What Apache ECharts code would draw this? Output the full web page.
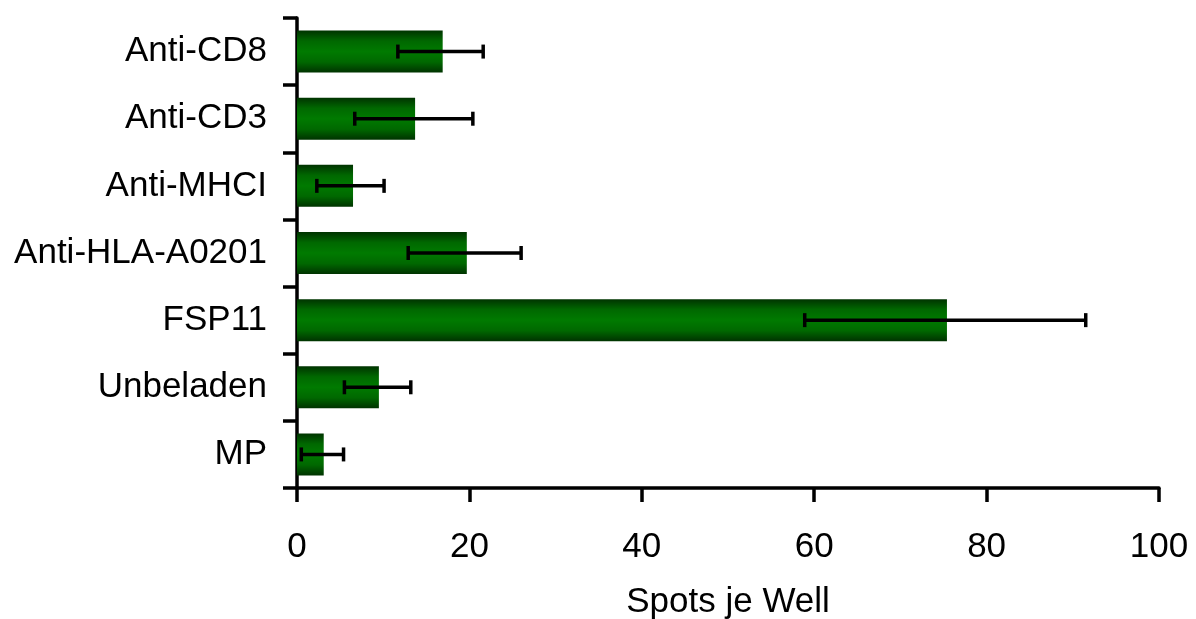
<!DOCTYPE html>
<html>
<head>
<meta charset="utf-8">
<script src="https://cdn.jsdelivr.net/npm/echarts@6/dist/echarts.min.js"></script>
<style>
  html, body { margin: 0; padding: 0; background: #fff; }
  #chart { width: 1196px; height: 619px; }
</style>
</head>
<body>
<div id="chart"></div>
<script>
// categories top to bottom
var categories = ['Anti-CD8', 'Anti-CD3', 'Anti-MHCI', 'Anti-HLA-A0201', 'FSP11', 'Unbeladen', 'MP'];
var means = [16.9, 13.7, 6.5, 19.7, 75.4, 9.5, 3.1];
var errLow = [11.7, 6.7, 2.3, 12.9, 58.9, 5.5, 0.5];
var errHigh = [21.6, 20.4, 10.1, 26.0, 91.5, 13.2, 5.4];
var xTicks = [0, 20, 40, 60, 80, 100];

var errData = categories.map(function (c, i) {
  return [i, errLow[i], errHigh[i]];
});

var font = '"Liberation Sans", Arial, sans-serif';
var chart = echarts.init(document.getElementById('chart'));

chart.setOption({
  animation: false,
  backgroundColor: '#fff',
  grid: { left: 297, right: 37, top: 18, bottom: 131, containLabel: false, outerBoundsMode: 'none' },
  xAxis: {
    type: 'value',
    min: xTicks[0],
    max: xTicks[xTicks.length - 1],
    interval: 20,
    name: 'Spots je Well',
    nameLocation: 'middle',
    nameGap: 97,
    nameTextStyle: { color: '#000', fontSize: 35, fontFamily: font },
    axisLine: { show: true, lineStyle: { color: '#000', width: 3.5 } },
    axisTick: { show: true, length: 14, lineStyle: { color: '#000', width: 3.5 } },
    axisLabel: { color: '#000', fontSize: 35, fontFamily: font, margin: 42 },
    splitLine: { show: false }
  },
  yAxis: {
    type: 'category',
    data: categories,
    inverse: true,
    axisLine: { show: true, lineStyle: { color: '#000', width: 3.5 } },
    axisTick: { show: true, length: 14, lineStyle: { color: '#000', width: 3.5 } },
    axisLabel: { color: '#000', fontSize: 35, fontFamily: font, margin: 30 },
    splitLine: { show: false }
  },
  series: [{
    type: 'bar',
    data: means,
    barWidth: 42,
    itemStyle: {
      color: new echarts.graphic.LinearGradient(0, 0, 0, 1, [
        { offset: 0, color: '#003300' },
        { offset: 0.25, color: '#006800' },
        { offset: 0.5, color: '#007a00' },
        { offset: 0.75, color: '#006800' },
        { offset: 1, color: '#003300' }
      ])
    }
  }, {
    type: 'custom',
    data: errData,
    encode: { x: [1, 2], y: 0 },
    z: 10,
    renderItem: function (params, api) {
      var idx = api.value(0);
      var p1 = api.coord([api.value(1), idx]);
      var p2 = api.coord([api.value(2), idx]);
      var h = 7;
      var style = { stroke: '#000', lineWidth: 3.5 };
      return {
        type: 'group',
        children: [
          { type: 'line', shape: { x1: p1[0], y1: p1[1], x2: p2[0], y2: p2[1] }, style: style },
          { type: 'line', shape: { x1: p1[0], y1: p1[1] - h, x2: p1[0], y2: p1[1] + h }, style: style },
          { type: 'line', shape: { x1: p2[0], y1: p2[1] - h, x2: p2[0], y2: p2[1] + h }, style: style }
        ]
      };
    }
  }]
});
</script>
</body>
</html>
